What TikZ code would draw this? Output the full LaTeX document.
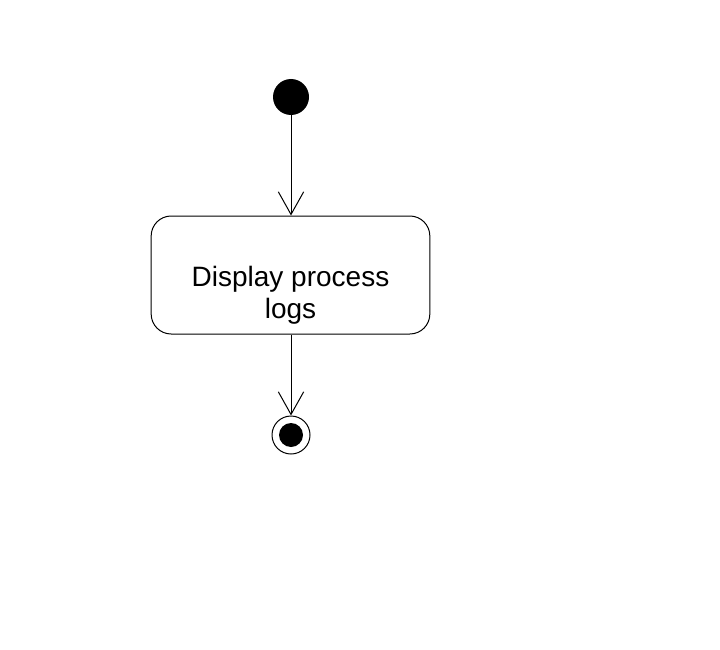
\documentclass[tikz,border=0pt]{standalone}
\usepackage{fontspec}
\setmainfont{Liberation Sans}
\usetikzlibrary{arrows.meta}
\begin{document}
\begin{tikzpicture}[x=0.75pt,y=-0.75pt,
  flow/.style={line width=0.75pt,-{Straight Barb[length=17pt,width=19pt,line width=0.75pt]}},
  activity/.style={draw,line width=0.75pt,rounded corners=15pt,minimum width=209pt,minimum height=88.5pt,inner sep=0pt}]
\useasboundingbox (0,0) rectangle (720,649);
\node [fill,circle,inner sep=0pt,minimum size=27pt] (start) at (291,97) {};
\node [activity] (act) at (290.5,275) {};
\node [align=center,font=\fontsize{21}{24}\selectfont,inner sep=0pt] (actlabel) at (290.5,295) {Display process\\logs};
\node [draw,circle,line width=0.75pt,inner sep=0pt,minimum size=28.5pt] (stop) at (291,435) {};
\node [fill,circle,inner sep=0pt,minimum size=18pt] (stopdot) at (stop.center) {};
\draw [flow] (start.south) -- (start.south |- act.north);
\draw [flow] (start.south |- act.south) -- (stop.north);
\end{tikzpicture}
\end{document}
